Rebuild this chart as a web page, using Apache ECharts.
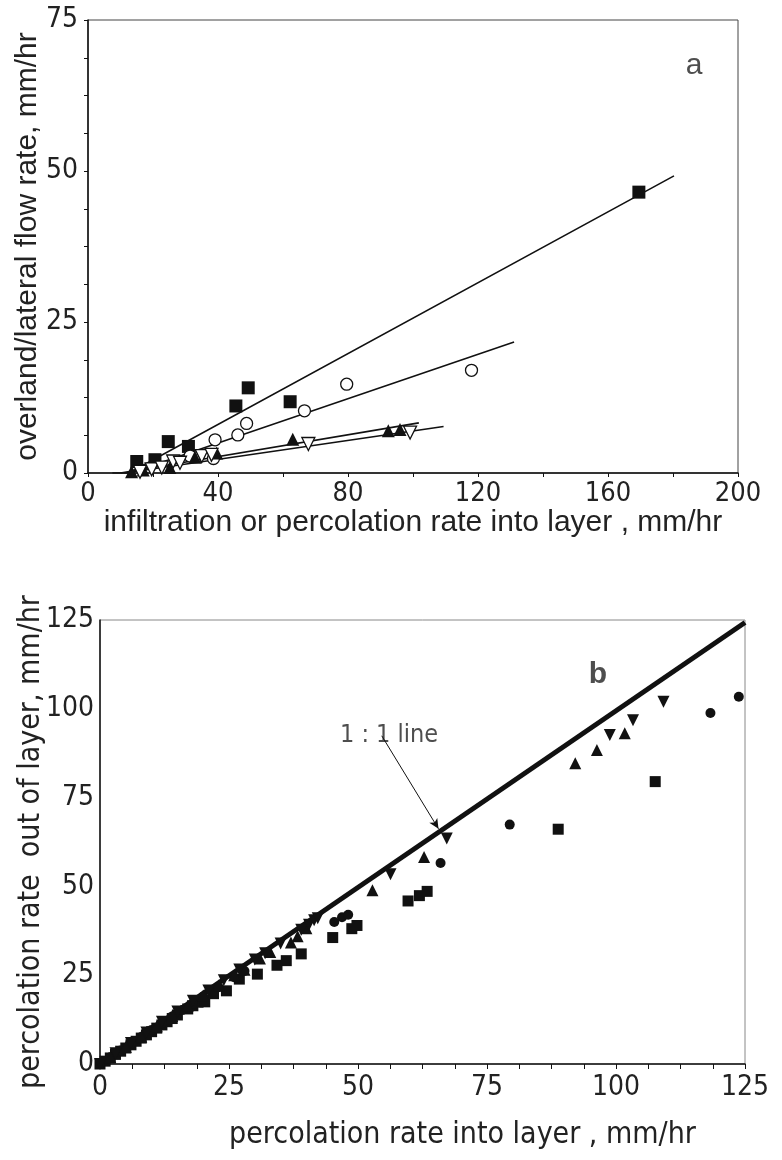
<!DOCTYPE html>
<html>
<head>
<meta charset="utf-8">
<script src="https://cdn.jsdelivr.net/npm/echarts@6/dist/echarts.min.js"></script>
<style>
  html, body { margin: 0; padding: 0; background: #fff; }
  #chart { width: 782px; height: 1160px; }
</style>
</head>
<body>
<div id="chart"></div>
<script>
// ---- panel a : overland / lateral flow vs infiltration ----
var sqA = [[15, 1.9], [20.6, 2.2], [24.7, 5.2], [30.9, 4.4], [45.5, 11.1], [49.3, 14.1], [62.2, 11.8], [169.5, 46.5]];
var circA = [[31.4, 2.8], [38.6, 2.4], [39.1, 5.5], [46.1, 6.3], [48.8, 8.2], [66.6, 10.3], [79.6, 14.7], [118, 17.0]];
var upA = [[13.4, 0.2], [17, 0.5], [25.2, 0.9], [32.9, 2.6], [39.6, 3.3], [63, 5.6], [92.4, 7.0], [96, 7.2]];
var dnA = [[16, 0.2], [19.6, 0.6], [22.7, 0.9], [26.2, 1.9], [28.3, 1.7], [35, 2.8], [38, 3.0], [67.8, 4.8], [99.1, 6.7]];
// fitted lines (start, end)
var fitSqA = [[7.5, 0], [12.6, 0], [180.3, 49.2]];
var fitCircA = [[13, 0], [131.1, 21.7]];
var fitUpA = [[10, 0], [101.8, 8.3]];
var fitDnA = [[11.2, 0], [109.4, 7.7]];

// ---- panel b : percolation out vs into layer ----
var oneToOne = [[0, 0], [125, 124.3]];
var sqB = [[0, 0], [1, 0.8], [2, 1.7], [3, 2.7], [4, 3.6], [5, 4.5], [6, 5.4], [7, 6.4], [8, 7.3], [9, 8.2],
  [10, 9.1], [11, 10.1], [12, 11], [13, 11.9], [14, 12.8], [15, 13.8], [17, 15.5], [18, 16.4], [19, 17.4],
  [20.3, 17.5], [22, 19.8], [24.5, 20.6], [27, 23.9], [30.5, 25.3], [34.3, 27.8], [36.1, 29.1], [39, 31],
  [45.1, 35.6], [48.8, 38.1], [49.8, 39], [59.7, 45.9], [61.9, 47.4], [63.4, 48.6], [88.8, 66.1], [107.6, 79.5]];
var circB = [[0, 0], [2, 1.9], [4, 3.8], [6, 5.7], [8, 7.6], [10, 9.6], [12, 11.5], [14, 13.4], [16, 15.2],
  [18, 17], [20, 19], [23, 21.6], [26, 24.4], [28, 26.2], [45.4, 40], [46.9, 41.3], [48.1, 42],
  [66, 56.6], [79.4, 67.4], [118.3, 98.8], [123.8, 103.4]];
var upB = [[2, 1.9], [5, 4.8], [8, 7.7], [11, 10.6], [14, 13.5], [17, 16.4], [20, 19.3], [23, 22.1],
  [26, 25], [28, 26.5], [31, 29.7], [33, 31.5], [37, 34.2], [38.3, 36], [40, 38.2],
  [52.8, 48.9], [62.8, 58.3], [92.1, 84.7], [96.3, 88.4], [101.7, 93.1]];
var dnB = [[0, 0], [3, 3], [6, 5.9], [9, 8.9], [12, 11.9], [15, 14.8], [18, 17.8], [21, 20.7], [24, 23.6],
  [27, 26.6], [30, 29.4], [32, 31.2], [35, 33.9], [39, 37.8], [40.5, 39.2], [41.5, 40.5], [42.2, 41],
  [56.3, 53.4], [67.2, 63.5], [98.8, 92.6], [103.3, 96.8], [109.2, 102]];

var narrow = "'Liberation Sans Narrow', 'Arial Narrow', 'DejaVu Sans Condensed', sans-serif";
var regular = "'Liberation Sans', Arial, sans-serif";

function onlyEvery(step) {
  return function (v) {
    return Math.abs(v / step - Math.round(v / step)) < 1e-6 ? String(v) : '';
  };
}

function scatter(name, data, sym, size, filled, xi, extra) {
  var s = {
    name: name, type: 'scatter', xAxisIndex: xi, yAxisIndex: xi,
    data: data, symbol: sym, symbolSize: size,
    itemStyle: filled ? { color: '#111', opacity: 1 } : { color: '#fff', borderColor: '#111', borderWidth: 1.3, opacity: 1 },
    z: 5
  };
  return Object.assign(s, extra || {});
}

function fit(data, xi, w) {
  return {
    type: 'line', xAxisIndex: xi, yAxisIndex: xi, data: data,
    showSymbol: false, symbol: 'none', silent: true,
    lineStyle: { color: '#111', width: w }, z: 3
  };
}

var chart = echarts.init(document.getElementById('chart'));

var option = {
  animation: false,
  grid: [
    { left: 88, top: 20, width: 650, height: 453, show: true, borderColor: '#444', borderWidth: 1,
      outerBoundsMode: 'none', containLabel: false },
    { left: 100, top: 620, width: 645, height: 444, show: true, borderColor: '#888', borderWidth: 1,
      outerBoundsMode: 'none', containLabel: false }
  ],
  xAxis: [
    {
      gridIndex: 0, type: 'value', min: 0, max: 200, interval: 20,
      name: 'infiltration or percolation rate into layer , mm/hr',
      nameLocation: 'middle', nameGap: 35, nameMoveOverlap: false,
      nameTextStyle: { fontFamily: regular, fontSize: 30, color: '#222' },
      axisLine: { onZero: false, lineStyle: { color: '#111', width: 1.5 } },
      axisTick: { show: true, length: 4, lineStyle: { color: '#111' } },
      axisLabel: { formatter: onlyEvery(40), fontFamily: narrow, fontSize: 27, color: '#222', margin: 7 },
      splitLine: { show: false }
    },
    {
      gridIndex: 1, type: 'value', min: 0, max: 125, interval: 6.25,
      name: 'percolation rate into layer , mm/hr',
      nameLocation: 'middle', nameGap: 56, nameMoveOverlap: false,
      nameTextStyle: { fontFamily: narrow, fontSize: 30, color: '#222', padding: [0, 0, 0, 80] },
      axisLine: { onZero: false, lineStyle: { color: '#111', width: 1.5 } },
      axisTick: { show: true, length: 5, lineStyle: { color: '#111' } },
      axisLabel: { formatter: onlyEvery(25), fontFamily: narrow, fontSize: 28, color: '#222', margin: 10 },
      splitLine: { show: false }
    }
  ],
  yAxis: [
    {
      gridIndex: 0, type: 'value', min: 0, max: 75, interval: 6.25,
      name: 'overland/lateral flow rate, mm/hr',
      nameLocation: 'middle', nameGap: 45, nameMoveOverlap: false,
      nameTextStyle: { fontFamily: regular, fontSize: 30, color: '#222' },
      axisLine: { onZero: false, lineStyle: { color: '#111', width: 1.5 } },
      axisTick: { show: true, length: 4, lineStyle: { color: '#111' } },
      axisLabel: { formatter: onlyEvery(25), fontFamily: narrow, fontSize: 28, color: '#222', margin: 10 },
      splitLine: { show: false }
    },
    {
      gridIndex: 1, type: 'value', min: 0, max: 125, interval: 25,
      name: 'percolation rate  out of layer, mm/hr',
      nameLocation: 'middle', nameGap: 54, nameMoveOverlap: false,
      nameTextStyle: { fontFamily: narrow, fontSize: 30, color: '#222' },
      axisLine: { onZero: false, lineStyle: { color: '#111', width: 1.5 } },
      axisTick: { show: false },
      axisLabel: { fontFamily: narrow, fontSize: 28, color: '#222', margin: 6 },
      splitLine: { show: false }
    }
  ],
  series: [
    fit(fitSqA, 0, 1.6),
    fit(fitCircA, 0, 1.6),
    fit(fitUpA, 0, 1.6),
    fit(fitDnA, 0, 1.6),
    scatter('sqA', sqA, 'rect', 13, true, 0),
    scatter('circA', circA, 'circle', 12, false, 0),
    scatter('upA', upA, 'triangle', 13, true, 0),
    scatter('dnA', dnA, 'triangle', 13, false, 0, { symbolRotate: 180 }),
    {
      type: 'scatter', xAxisIndex: 0, yAxisIndex: 0, symbolSize: 0, silent: true,
      data: [[186.5, 67.5]],
      label: { show: true, position: 'inside', formatter: 'a', fontFamily: regular, fontSize: 30, color: '#222' }
    },
    {
      type: 'line', xAxisIndex: 1, yAxisIndex: 1, data: oneToOne, symbol: 'none', silent: true,
      lineStyle: { color: '#111', width: 5 }, z: 4,
      markLine: {
        silent: true, symbol: ['none', 'arrow'], symbolSize: [7, 10],
        lineStyle: { color: '#111', width: 1, type: 'solid' },
        label: { show: false },
        data: [[{ coord: [54.6, 92.4] }, { coord: [65.6, 66.2] }]]
      }
    },
    scatter('sqB', sqB, 'rect', 11, true, 1),
    scatter('circB', circB, 'circle', 10, true, 1),
    scatter('upB', upB, 'triangle', 12, true, 1),
    scatter('dnB', dnB, 'triangle', 12, true, 1, { symbolRotate: 180 }),
    {
      type: 'scatter', xAxisIndex: 1, yAxisIndex: 1, symbolSize: 0, silent: true,
      data: [
        { value: [96.5, 109.5], label: { formatter: 'b', fontFamily: regular, fontWeight: 'bold', fontSize: 30 } },
        { value: [46.5, 92.6], label: { formatter: '1 : 1 line', position: 'right', distance: 0, fontFamily: narrow, fontSize: 25 } }
      ],
      label: { show: true, position: 'inside', color: '#222' }
    }
  ]
};

chart.setOption(option);
</script>
</body>
</html>
